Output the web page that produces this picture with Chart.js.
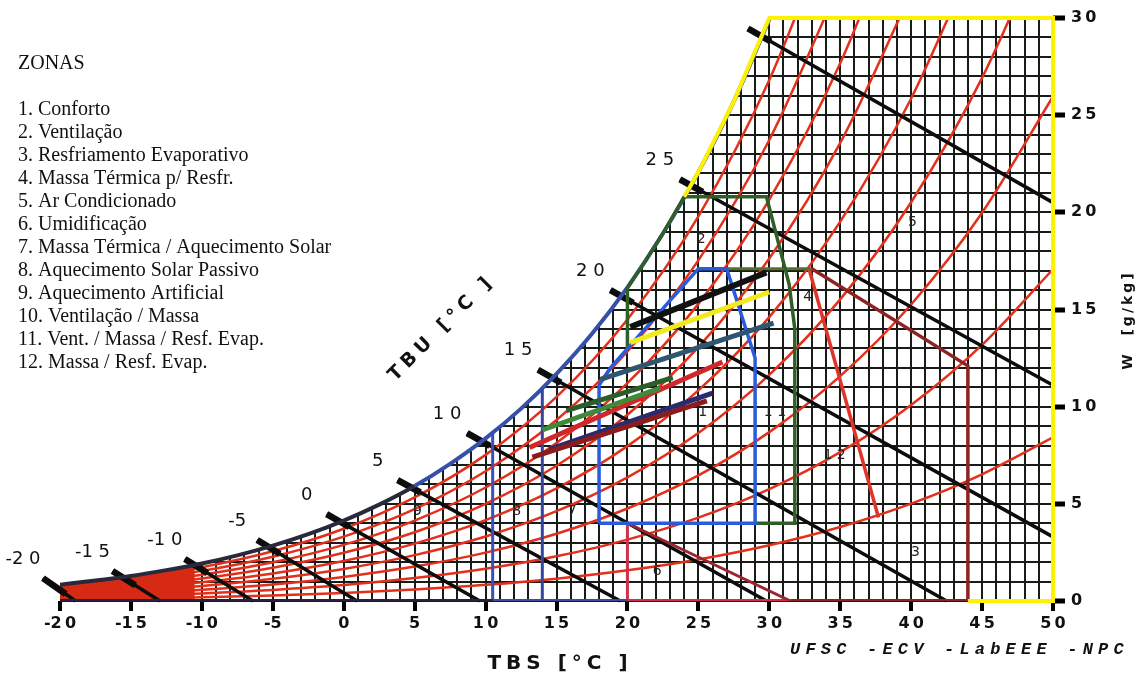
<!DOCTYPE html>
<html>
<head>
<meta charset="utf-8">
<script src="https://cdn.jsdelivr.net/npm/chart.js@4.4.1/dist/chart.umd.min.js"></script>
<style>
  html, body { margin: 0; padding: 0; background: #fff; }
  #wrap { width: 1141px; height: 677px; }
</style>
</head>
<body>
<div id="wrap"><canvas id="carta" width="1141" height="677"></canvas></div>
<script>
// curva de saturacao (TBS, W g/kg)
const tSat = [-20,-17.5,-15,-12.5,-10,-7.5,-5,-2.5,0,2.5,5,7.5,10,12.5,15,17.5,20,22.5,25,27.5,30];
const wSat = [0.84,1.05,1.29,1.59,1.93,2.35,2.85,3.44,4.14,4.96,5.92,7.06,8.37,9.90,11.69,13.75,16.14,18.91,22.07,25.71,29.93];
// trecho muito frio, onde as curvas se juntam num bloco vermelho
const tFrio = [-20,-17.5,-15,-12.5,-10.5];
const wFrio = [0.84,1.05,1.29,1.59,1.84];

// curvas de umidade relativa 10..90 %
const tUR = [-20,-15,-10,-5,0,5,10,15,20,25,30,35,40,45,50];
const ur10 = [0.08,0.13,0.19,0.28,0.41,0.59,0.83,1.15,1.58,2.14,2.87,3.81,5.01,6.52,8.42];
const ur20 = [0.17,0.26,0.39,0.57,0.82,1.18,1.66,2.30,3.16,4.29,5.76,7.66,10.09,13.18,17.07];
const ur30 = [0.25,0.39,0.58,0.85,1.24,1.77,2.49,3.46,4.76,6.46,8.69,11.57,15.26,19.98,25.96];
const ur40 = [0.34,0.52,0.77,1.14,1.65,2.36,3.32,4.62,6.36,8.64,11.64,15.52,20.52,26.92,35.10];
const ur50 = [0.42,0.64,0.97,1.42,2.06,2.95,4.16,5.79,7.97,10.84,14.61,19.52,25.86,34.02];
const ur60 = [0.51,0.77,1.16,1.71,2.48,3.54,5.00,6.96,9.58,13.06,17.62,23.57,31.29];
const ur70 = [0.59,0.90,1.35,1.99,2.89,4.14,5.84,8.13,11.21,15.29,20.65,27.67,36.8];
const ur80 = [0.68,1.03,1.55,2.28,3.31,4.73,6.68,9.31,12.84,17.53,23.72,31.83];
const ur90 = [0.76,1.16,1.74,2.56,3.72,5.33,7.52,10.50,14.49,19.79,26.81,36.04];
const curvasUR = [ur10, ur20, ur30, ur40, ur50, ur60, ur70, ur80, ur90];

// linhas de TBU: inicio (fora da curva) e fim
const tbuRotulos = ['-2 0','-1 5','-1 0','-5','0','5','1 0','1 5','2 0','2 5',''];
const tbuIniT = [-21.2,-16.3,-11.2,-6.1,-1.2,3.8,8.7,13.7,18.8,23.7,28.5];
const tbuIniW = [1.18,1.54,2.16,3.14,4.47,6.22,8.64,11.9,16.0,21.7,29.46];
const tbuFimT = [-18.9,-12.95,-6.4,0.94,9.6,19.5,29.8,42.5,50,50,50];
const tbuFimW = [0,0,0,0,0,0,0,0,3.3,11.1,20.5];

// zonas
const z1T = [18,18,18.8,25,27,29,29,18];
const z1W = [4,11.1,12.0,17.1,17.1,12.5,4,4];
const z2T = [20,20,21,22.5,24,29.8,31.4,31.8,31.8,29];
const z2W = [13.0,16.1,17.2,18.9,20.8,20.8,16.3,14.0,4,4];
const z4T = [27,33];
const z4W = [17.1,17.1];
const z3T = [33,44,44];
const z3W = [17.1,12.1,0];
const z12T = [32.8,37.7];
const z12W = [17.1,4.3];
const z6T = [20,31.5];
const z6W = [4,0];
const z5T = [24,25,27.5,30,50,50,44];
const z5W = [20.8,22.07,25.71,30,30,0,0];
const verticaisT = [10.5,14,20];
const verticaisW = [8.7,10.9,4];
const verticaisCor = ['#3b4fb5','#34459c','#d0304a'];
const baseT = [-20,10.5,20,31.5,44];
const baseCor = ['#2c1f3f','#3c4c9c','#d0304a','#8e2222'];

// linhas mensais (dados climaticos)
const mesT1 = [20.2,20.2,18.1,15.7,14.0,13.1,13.3,14.5];
const mesW1 = [14.1,13.3,11.4,9.8,8.8,7.9,7.4,7.8];
const mesT2 = [29.8,30.0,30.3,23.2,22.3,26.7,25.6,26.0];
const mesW2 = [16.9,15.9,14.3,11.5,10.95,12.3,10.3,10.7];
const mesCor = ['#111111','#f2ea1c','#2f5570','#2d5e2a','#3f8a3a','#d0282a','#8a1c1c','#2a2a6e'];

// rotulos das zonas
const zonaNum = ['1','2','3','4','5','6','7','8','9','1 1','1 2'];
const zonaNumT = [25.3,25.2,40.3,32.7,40.1,22.1,16.1,12.2,5.2,30.4,34.6];
const zonaNumW = [9.7,18.6,2.5,15.6,19.5,1.5,4.6,4.6,4.6,9.7,7.5];

const zonasTitulo = 'ZONAS';
const zonasNomes = [
  '1. Conforto',
  '2. Ventilação',
  '3. Resfriamento Evaporativo',
  '4. Massa Térmica p/ Resfr.',
  '5. Ar Condicionado',
  '6. Umidificação',
  '7. Massa Térmica / Aquecimento Solar',
  '8. Aquecimento Solar Passivo',
  '9. Aquecimento Artificial',
  '10. Ventilação / Massa',
  '11. Vent. / Massa / Resf. Evap.',
  '12. Massa / Resf. Evap.'
];

function pts(ts, ws) {
  return ts.map((t, i) => ({ x: t, y: ws[i] }));
}
function espaco(v) {
  return String(v).replace(/(\d)(?=\d)/g, '$1\u2009');
}
function linha(data, cor, larg, ordem, extra) {
  return Object.assign({
    data: data, showLine: true, borderColor: cor, borderWidth: larg,
    pointRadius: 0, fill: false, tension: 0, order: ordem
  }, extra || {});
}

const datasets = [];
// fundo branco acima da saturacao (esconde a grade)
datasets.push(linha(pts(tSat, wSat), 'rgba(0,0,0,0)', 0, 100,
  { fill: 'end', backgroundColor: '#fff', cubicInterpolationMode: 'monotone' }));
curvasUR.forEach(c => {
  datasets.push(linha(pts(tUR.slice(0, c.length), c), '#e2301c', 2.5, 90,
    { cubicInterpolationMode: 'monotone' }));
});
datasets.push(linha(pts(tFrio, wFrio), 'rgba(0,0,0,0)', 0, 85,
  { fill: 'origin', backgroundColor: '#d62a14', cubicInterpolationMode: 'monotone' }));
tbuIniT.forEach((t, i) => {
  datasets.push(linha([{ x: t, y: tbuIniW[i] }, { x: tbuFimT[i], y: tbuFimW[i] }], '#0c0c0c', 3.5, 80, { clip: false }));
  const d = 1.6 / (tbuFimT[i] - t);
  datasets.push(linha([{ x: t, y: tbuIniW[i] },
    { x: t + d * (tbuFimT[i] - t), y: tbuIniW[i] + d * (tbuFimW[i] - tbuIniW[i]) }], '#0c0c0c', 6.5, 79, { clip: false }));
});
datasets.push(linha(pts(tSat, wSat), '#262a3a', 4, 70, {
  cubicInterpolationMode: 'monotone',
  segment: { borderColor: c => c.p0.parsed.x < 5 ? '#262a3a' : '#3550a8' }
}));
for (let i = 0; i < baseCor.length; i++) {
  datasets.push(linha([{ x: baseT[i], y: 0 }, { x: baseT[i + 1], y: 0 }], baseCor[i], 4, 60));
}
verticaisT.forEach((t, i) => {
  datasets.push(linha([{ x: t, y: 0 }, { x: t, y: verticaisW[i] }], verticaisCor[i], 3, 60));
});
datasets.push(linha(pts(z6T, z6W), '#9a2630', 3, 58));
datasets.push(linha(pts(z3T, z3W), '#8e2323', 3.5, 56));
datasets.push(linha(pts(z12T, z12W), '#e0342a', 3.5, 55));
datasets.push(linha(pts(z4T, z4W), '#55702a', 3, 54));
datasets.push(linha(pts(z2T, z2W), '#2f5e26', 3.5, 52));
datasets.push(linha(pts(z5T, z5W), '#fff200', 4, 50, { clip: false }));
datasets.push(linha(pts(z1T, z1W), '#2a5bdc', 3.5, 40));
mesT1.forEach((t, i) => {
  datasets.push(linha([{ x: t, y: mesW1[i] }, { x: mesT2[i], y: mesW2[i] }], mesCor[i], i === 0 ? 6 : 5, 10));
});

const textos = {
  id: 'textos',
  afterDraw(chart) {
    const ctx = chart.ctx;
    const xs = chart.scales.x, ys = chart.scales.y;
    ctx.save();
    ctx.fillStyle = '#111';
    ctx.textBaseline = 'middle';
    ctx.textAlign = 'left';
    ctx.font = '20px "Liberation Serif"';
    ctx.fillText(zonasTitulo, 18, 64);
    zonasNomes.forEach((n, i) => ctx.fillText(n, 18, 110 + i * 23));

    // rotulos TBU
    ctx.textAlign = 'center';
    ctx.font = '18px "DejaVu Sans"';
    tbuRotulos.forEach((r, i) => {
      const px = xs.getPixelForValue(tbuIniT[i]) - 20;
      const py = ys.getPixelForValue(tbuIniW[i]) - 19;
      ctx.fillText(r, px, py);
    });

    // numeros das zonas
    ctx.font = '14px "DejaVu Sans"';
    ctx.fillStyle = '#222';
    zonaNum.forEach((z, i) => {
      ctx.fillText(z, xs.getPixelForValue(zonaNumT[i]), ys.getPixelForValue(zonaNumW[i]));
    });

    ctx.fillStyle = '#111';
    ctx.font = 'bold 19px "DejaVu Sans"';
    ctx.letterSpacing = '5px';
    ctx.save();
    ctx.translate(442, 328);
    ctx.rotate(-Math.PI / 4);
    ctx.fillText('TBU [°C ]', 0, 0);
    ctx.restore();

    ctx.font = 'bold 20px "DejaVu Sans"';
    ctx.letterSpacing = '5px';
    ctx.fillText('TBS [°C ]', 560, 664);

    ctx.font = 'bold 14px "DejaVu Sans"';
    ctx.letterSpacing = '3px';
    ctx.save();
    ctx.translate(1128, 320);
    ctx.rotate(-Math.PI / 2);
    ctx.fillText('W  [g/kg]', 0, 0);
    ctx.restore();

    ctx.font = 'italic bold 17px "Liberation Mono"';
    ctx.letterSpacing = '5.2px';
    ctx.textAlign = 'left';
    ctx.fillText('UFSC -ECV -LabEEE -NPC', 790, 650);
    ctx.restore();
  }
};

const gradeCor = '#181c18';

new Chart(document.getElementById('carta'), {
  type: 'scatter',
  data: { datasets: datasets },
  options: {
    responsive: false,
    animation: false,
    layout: { padding: { left: 60, top: 18, right: 0, bottom: 0 } },
    plugins: { legend: { display: false }, tooltip: { enabled: false } },
    scales: {
      x: {
        type: 'linear', min: -20, max: 50, position: 'bottom',
        border: { display: false },
        afterFit: s => { s.height = 76; },
        ticks: {
          stepSize: 1, autoSkip: false, maxRotation: 0, padding: 3,
          color: '#111', font: { family: 'DejaVu Sans', size: 16, weight: 'bold' },
          callback: v => v % 5 === 0 ? espaco(v) : ''
        },
        grid: {
          lineWidth: 2,
          color: c => (c.tick && (c.tick.value === -20 || c.tick.value === 50)) ? 'rgba(0,0,0,0)' : gradeCor,
          tickColor: c => (c.tick && c.tick.value % 5 === 0) ? '#000' : 'rgba(0,0,0,0)',
          tickWidth: 4, tickLength: 10
        }
      },
      y: {
        type: 'linear', min: 0, max: 30, position: 'right',
        border: { display: false },
        afterFit: s => { s.width = 88; },
        ticks: {
          stepSize: 1, autoSkip: false, padding: 6,
          color: '#111', font: { family: 'DejaVu Sans', size: 16, weight: 'bold' },
          callback: v => v % 5 === 0 ? espaco(v) : ''
        },
        grid: {
          lineWidth: 2,
          color: c => (c.tick && c.tick.value === 30) ? 'rgba(0,0,0,0)' : gradeCor,
          tickColor: c => (c.tick && c.tick.value % 5 === 0) ? '#000' : 'rgba(0,0,0,0)',
          tickWidth: 5, tickLength: 12
        }
      }
    }
  },
  plugins: [textos]
});
</script>
</body>
</html>
